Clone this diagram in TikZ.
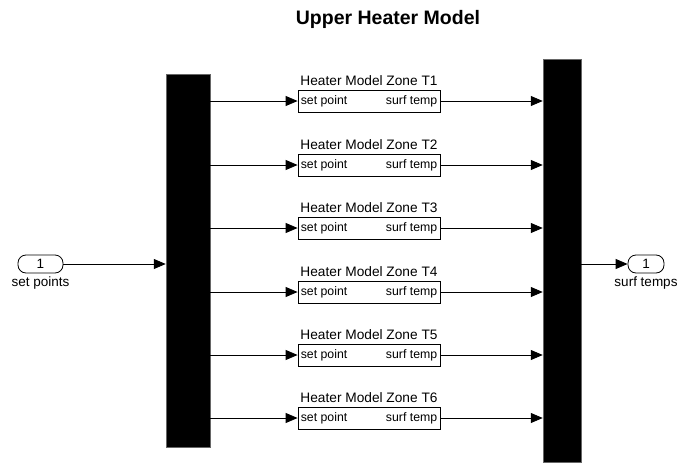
\documentclass[tikz,border=0pt]{standalone}
\usepackage{fontspec}
\setmainfont{Liberation Sans}
\usetikzlibrary{arrows.meta}
\begin{document}
\begin{tikzpicture}[x=1pt,y=-1pt,
  wire/.style={line width=0.8pt,-{Triangle[length=12pt,width=10pt]}},
  muxbar/.style={fill=black,draw=black!60,line width=0.5pt,inner sep=0pt},
  hblock/.style={draw,line width=0.8pt,minimum width=142pt,minimum height=22pt,inner sep=0pt},
  plabel/.style={font=\fontsize{12.3}{14}\selectfont,inner sep=3pt},
  btitle/.style={font=\fontsize{13.7}{16}\selectfont,inner sep=0pt},
  ioport/.style={draw,line width=0.8pt,rounded corners=8pt,minimum width=45pt,minimum height=18pt,inner sep=0pt,font=\fontsize{13.5}{15}\selectfont},
  iolabel/.style={font=\fontsize{13.5}{15}\selectfont,inner sep=0pt}]
\useasboundingbox (0,0) rectangle (696,463);
\node[font=\bfseries\fontsize{19.5}{22}\selectfont] (title) at (388,19) {Upper Heater Model};
\node[muxbar,minimum width=44pt,minimum height=373pt] (mux1) at (188,260.5) {};
\node[muxbar,minimum width=38pt,minimum height=403pt] (mux2) at (562,260.5) {};
\foreach \i/\y in {1/101,2/165,3/228,4/292,5/355,6/418}{
  \node[hblock] (h\i) at (369,\y) {};
  \node[btitle,anchor=south] (t\i) at (h\i.north) [yshift=4pt] {Heater Model Zone T\i};
  \node[plabel,anchor=west] (sp\i) at (h\i.west) {set point};
  \node[plabel,anchor=east] (st\i) at (h\i.east) {surf temp};
  \draw[wire] (mux1.east |- h\i) -- (h\i.west);
  \draw[wire] (h\i.east) -- (mux2.west |- h\i);
}
\node[ioport] (in1) at (40.5,264) {1};
\node[iolabel,anchor=north] (inl) at (in1.south) [yshift=-3pt] {set points};
\draw[wire] (in1.east) -- (mux1.west |- in1);
\node[ioport,minimum width=36pt] (out1) at (646,264) {1};
\node[iolabel,anchor=north] (outl) at (out1.south) [yshift=-3pt] {surf temps};
\draw[wire] (mux2.east |- out1) -- (out1.west);
\end{tikzpicture}
\end{document}
